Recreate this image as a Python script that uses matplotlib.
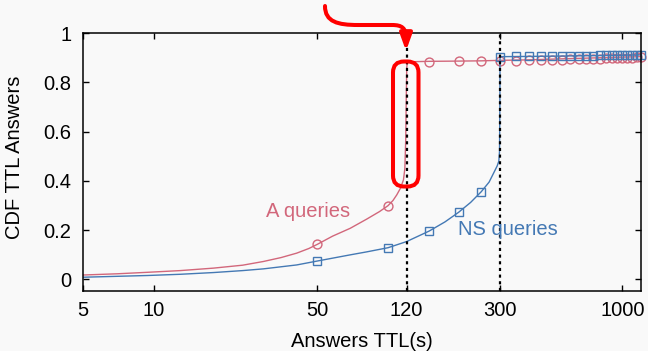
import matplotlib
matplotlib.use("Agg")
import matplotlib.pyplot as plt
from matplotlib.patches import FancyArrowPatch, FancyBboxPatch, ArrowStyle
from matplotlib.path import Path
from matplotlib.transforms import IdentityTransform

plt.rcParams['font.family'] = ['Liberation Sans', 'DejaVu Sans']

# ---- data ----
a_line_x = [5, 7, 9.4, 13, 18, 24, 29.4, 35, 40.8, 46, 50, 58, 69, 81, 92, 100, 105, 109,
            113, 116.4, 118, 119, 119.7, 120.2, 121, 150, 200, 250, 300, 400, 500, 700, 1000, 1200]
a_line_y = [0.017, 0.022, 0.028, 0.035, 0.045, 0.057, 0.072, 0.088, 0.106, 0.125, 0.142, 0.175,
            0.207, 0.244, 0.275, 0.299, 0.32, 0.343, 0.37, 0.404, 0.45, 0.566, 0.75, 0.86, 0.884,
            0.886, 0.887, 0.888, 0.890, 0.892, 0.895, 0.899, 0.903, 0.905]

ns_line_x = [5, 9.4, 13, 18, 24, 29.4, 40.8, 50, 69, 81, 100, 120, 150, 175, 200, 225, 250, 270,
             282, 292, 297, 299, 300, 300.5, 303, 400, 600, 900, 1200]
ns_line_y = [0.008, 0.015, 0.020, 0.027, 0.035, 0.042, 0.058, 0.074, 0.099, 0.111, 0.128, 0.153,
             0.196, 0.233, 0.272, 0.312, 0.356, 0.395, 0.431, 0.46, 0.48, 0.52, 0.7, 0.9, 0.905,
             0.906, 0.908, 0.910, 0.912]

marker_x = [50, 100, 150, 200, 250, 300, 350, 400, 450, 500, 550, 600, 650, 700, 750, 800,
            850, 900, 950, 1000, 1050, 1100, 1150, 1200]
a_marker_y = [0.142, 0.299, 0.885, 0.886, 0.886, 0.888, 0.889, 0.890, 0.891, 0.892, 0.893, 0.894,
              0.895, 0.896, 0.896, 0.897, 0.898, 0.898, 0.899, 0.900, 0.900, 0.901, 0.902, 0.902]
ns_marker_y = [0.074, 0.128, 0.196, 0.272, 0.356, 0.905, 0.906, 0.906, 0.907, 0.907, 0.908, 0.908,
               0.909, 0.909, 0.909, 0.910, 0.910, 0.910, 0.911, 0.911, 0.911, 0.912, 0.912, 0.912]

x_ticks = [5, 10, 50, 120, 300, 1000]
x_tick_labels = ['5', '10', '50', '120', '300', '1000']
y_ticks = [0, 0.2, 0.4, 0.6, 0.8, 1]
y_tick_labels = ['0', '0.2', '0.4', '0.6', '0.8', '1']
ref_lines = [120, 300]

RED = '#d2677b'
BLUE = '#4479b4'
BG = '#f9f9f9'
FS = 14.5

fig = plt.figure(figsize=(6.48, 3.51), dpi=100, facecolor=BG)
ax = fig.add_axes([83/648, 1-291/351, (641-83)/648, (291-33.3)/351])
ax.set_facecolor(BG)

ax.plot(a_line_x, a_line_y, color=RED, lw=1.0, zorder=2)
ax.plot(marker_x, a_marker_y, ls='none', marker='o', ms=6.4, mfc='none', mec=RED, mew=1.0,
        zorder=2, clip_on=False)
ax.plot(ns_line_x, ns_line_y, color=BLUE, lw=1.0, zorder=2)
ax.plot(marker_x, ns_marker_y, ls='none', marker='s', ms=6.2, mfc='none', mec=BLUE, mew=1.0,
        zorder=2, clip_on=False)

for xv in ref_lines:
    ax.axvline(xv, color='black', lw=1.6, ls=(0, (1.4, 1.6)), zorder=3)

ax.set_xscale('log')
ax.set_xlim(5, 1200)
ax.set_ylim(-0.048, 1.0)
ax.set_xticks(x_ticks)
ax.set_xticklabels(x_tick_labels)
ax.minorticks_off()
ax.set_yticks(y_ticks)
ax.set_yticklabels(y_tick_labels)
ax.tick_params(direction='in', length=4, width=1.0, labelsize=FS, top=True, right=True,
               colors='black')
ax.tick_params(axis='x', pad=7)
ax.tick_params(axis='y', pad=8.5)
for s in ax.spines.values():
    s.set_linewidth(1.1)

ax.text(0.404, 0.31, 'A queries', transform=ax.transAxes, color=RED, fontsize=FS,
        ha='center', va='center')
ax.text(0.761, 0.2394, 'NS queries', transform=ax.transAxes, color=BLUE, fontsize=FS,
        ha='center', va='center')

fig.text(15/648, 1-157/351, 'CDF TTL Answers', rotation=90, ha='center', va='center', fontsize=FS)
fig.text(361.7/648, 1-341.7/351, 'Answers TTL(s)', ha='center', va='center', fontsize=FS)

# ---- red annotation (display pixel coords, y from bottom) ----
H = 351
verts = [(325, H-6), (325, H-22), (338, H-25), (358, H-25),
         (392, H-25),
         (402, H-25), (406, H-28), (406, H-38),
         (406, H-51)]
codes = [Path.MOVETO, Path.CURVE4, Path.CURVE4, Path.CURVE4,
         Path.LINETO,
         Path.CURVE4, Path.CURVE4, Path.CURVE4,
         Path.LINETO]
arrow = FancyArrowPatch(path=Path(verts, codes),
                        arrowstyle=ArrowStyle('-|>', head_length=10, head_width=3.6),
                        mutation_scale=1, color='#ff0000', lw=2.9,
                        transform=IdentityTransform(), shrinkA=0, shrinkB=0)
fig.add_artist(arrow)

box = FancyBboxPatch((393, H-186.5), 25.5, 125, boxstyle='round,pad=0,rounding_size=11',
                     fill=False, ec='#ff0000', lw=2.9, transform=IdentityTransform())
fig.add_artist(box)

fig.savefig('out.png', dpi=100, facecolor=BG)
